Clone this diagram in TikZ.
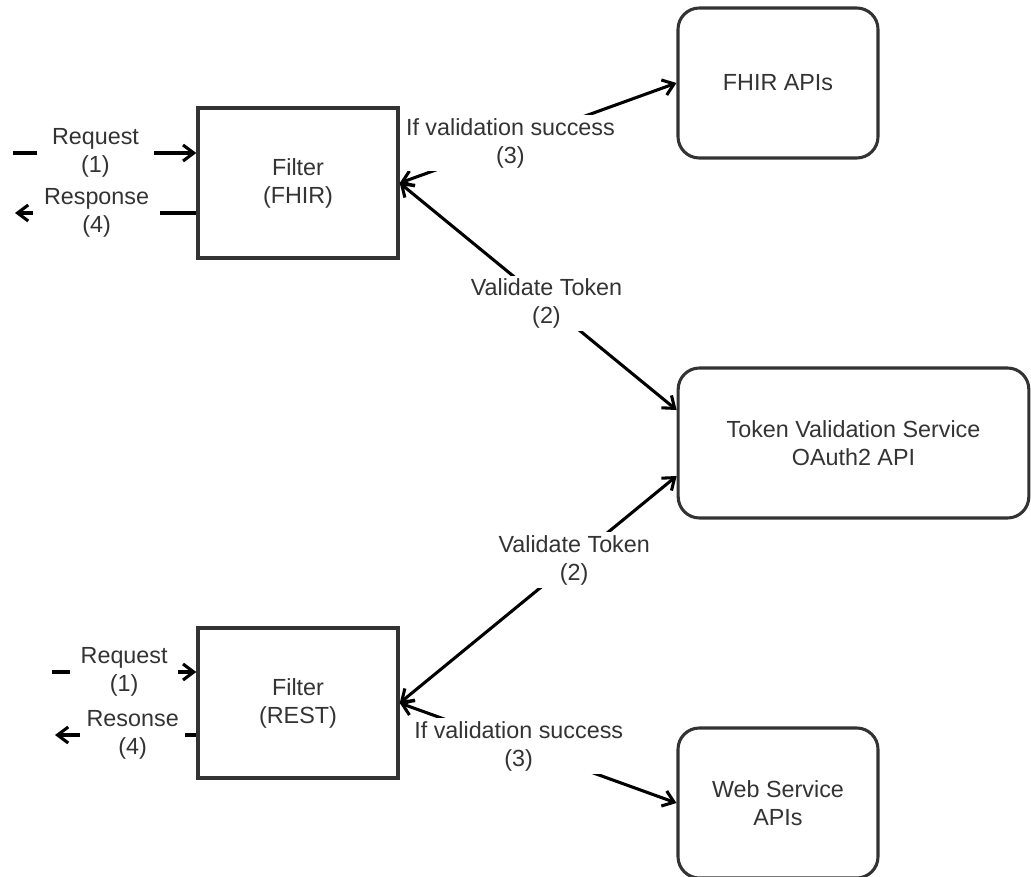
\documentclass[tikz,border=0pt]{standalone}
\usepackage{fontspec}
\setmainfont{Liberation Sans}
\usetikzlibrary{arrows.meta}
\definecolor{boxc}{HTML}{333333}
\definecolor{txtc}{HTML}{333333}
\begin{document}
\begin{tikzpicture}[x=0.75pt,y=-0.75pt,
  font=\fontsize{17.5pt}{21pt}\selectfont,
  filterbox/.style={draw=boxc,line width=2.6pt,minimum width=150pt,minimum height=112.5pt,align=center,text=txtc,inner sep=0pt},
  apibox/.style={draw=boxc,line width=2.3pt,rounded corners=16pt,minimum height=112.5pt,align=center,text=txtc,inner sep=0pt},
  tip/.style={},
  conn/.style={line width=2.3pt,black,arrows={-Straight Barb[length=8pt,width=12pt,line width=2.3pt]}},
  bconn/.style={line width=2.3pt,black,arrows={Straight Barb[length=8pt,width=12pt,line width=2.3pt]-Straight Barb[length=8pt,width=12pt,line width=2.3pt]}},
  lbl/.style={fill=white,text=txtc,align=center,inner sep=2pt}]
\useasboundingbox (0,0) rectangle (1031,877);
% nodes
\node[filterbox] (ff) at (298,183) {Filter\\(FHIR)};
\node[filterbox] (fr) at (298,703) {Filter\\(REST)};
\node[apibox,minimum width=150pt] (fa) at (778,83) {FHIR APIs};
\node[apibox,minimum width=263pt] (tv) at (853.5,443) {Token Validation Service\\OAuth2 API};
\node[apibox,minimum width=150pt] (ws) at (778,803) {Web Service\\APIs};
% free ends
\coordinate (rq1) at (13,153);
\coordinate (rs1) at (15,213);
\coordinate (rq2) at (52,672);
\coordinate (rs2) at (55,735);
% request / response
\draw[conn] (rq1) -- (rq1 -| ff.west) node[lbl,pos=0.45,inner xsep=11pt] {Request\\(1)};
\draw[conn] (rs1 -| ff.west) -- (rs1) node[lbl,pos=0.55,inner xsep=8pt] {Response\\(4)};
\draw[conn] (rq2) -- (rq2 -| fr.west) node[lbl,pos=0.5,inner xsep=8pt] {Request\\(1)};
\draw[conn] (rs2 -| fr.west) -- (rs2) node[lbl,pos=0.45,inner xsep=5pt] {Resonse\\(4)};
% validation edges
\draw[bconn] (ff.east) -- (fa.west) node[lbl,pos=0.4] {If validation success\\(3)};
\draw[bconn] (ff.east) -- ([yshift=24.75pt]tv.west) node[lbl,pos=0.53] {Validate Token\\(2)};
\draw[bconn] (fr.east) -- ([yshift=-24.75pt]tv.west) node[lbl,pos=0.63] {Validate Token\\(2)};
\draw[bconn] (fr.east) -- (ws.west) node[lbl,pos=0.43] {If validation success\\(3)};
\end{tikzpicture}
\end{document}
